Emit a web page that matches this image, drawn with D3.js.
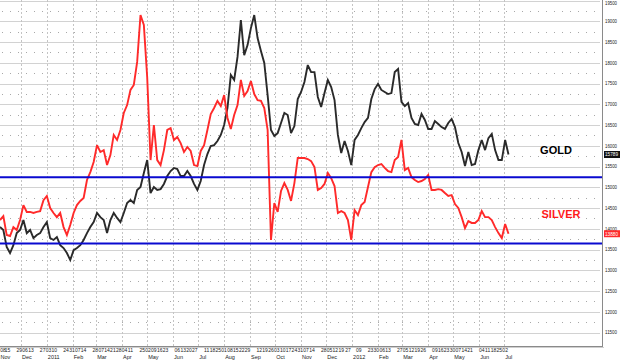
<!DOCTYPE html>
<html><head><meta charset="utf-8">
<script src="https://cdn.jsdelivr.net/npm/d3@7"></script>
<style>
body{margin:0;background:#fff;}
svg{display:block;font-family:Arial,"Liberation Sans",sans-serif;}
</style>
</head><body>
<svg id="c" width="620" height="360"></svg>
<script>
// ---- data ----
const startDate = "2010-11-06";
const stepDays = 4;
const gold = [14040,13970,13560,13415,13605,13895,13970,14210,13895,13970,
13775,13850,13895,14040,14160,13775,13730,13800,13605,13535,
13415,13245,13485,13535,13605,13730,13895,14040,14160,14380,
14280,14210,13895,14210,14380,14260,14160,14380,14620,14690,
14620,14935,15005,15345,15655,14860,15005,14935,14955,15080,
15270,15390,15465,15440,15270,15270,15390,15270,15080,14935,
15150,15535,15800,15995,16015,16115,16260,16500,16910,17705,
17585,18140,19030,18185,18425,18835,19150,18595,18285,17995,
17220,16380,16235,16305,16550,16790,16740,16305,16475,17125,
17295,17535,17945,17775,17775,17175,16935,17270,17585,17415,
17100,16260,15825,16115,15875,15535,16140,16260,16425,16570,
16670,17125,17365,17490,17345,17295,17245,17270,17775,17850,
17055,16955,17030,16670,16525,16500,16765,16620,16405,16405,
16595,16525,16450,16405,16550,16645,16450,16065,15850,15510,
15850,15535,15560,15895,16140,15895,16185,16285,15895,15655,
15655,16140,15789];
const silver = [14210,14305,13850,13825,14040,13970,14210,14570,14405,14405,
14380,14405,14425,14690,14790,14500,14380,14280,14380,14040,
13850,14090,14380,14570,14670,14740,15175,15365,15610,16015,
15850,15895,15535,15775,16260,16140,16380,16790,16980,17345,
17465,18020,19150,18910,17650,15655,16500,15655,15535,15895,
16380,16425,16140,16210,16065,15850,15970,15875,15535,15510,
15875,16015,16380,16765,16910,17080,16955,17220,16670,16405,
16740,16980,17585,17200,17320,17560,17245,17100,17080,16910,
16380,13730,14620,14405,14910,15100,14935,14670,15100,15705,
15705,15705,15680,15630,15485,14935,14980,15080,15345,15220,
15030,14380,14425,14380,14210,13730,14450,14330,14570,14645,
15005,15365,15485,15535,15560,15465,15390,15365,15655,15730,
16140,15415,15465,15245,15175,15125,15150,15200,15295,14935,
14935,14955,14935,14860,14790,14810,14595,14500,14280,14015,
14185,14140,14140,14210,14425,14280,14280,14210,14040,13895,
13775,14115,13880];
const yTicks = [11500,12000,12500,13000,13500,14000,14500,15000,15500,16000,16500,17000,17500,18000,18500,19000,19500];
const levels = [15240, 13645];
const weekTicks = ["2010-11-08","2010-11-15","2010-11-29","2010-12-06","2010-12-13","2010-12-27",
"2011-01-03","2011-01-10","2011-01-24","2011-01-31","2011-02-07","2011-02-14","2011-02-28",
"2011-03-07","2011-03-14","2011-03-21","2011-03-28","2011-04-04","2011-04-11","2011-04-25",
"2011-05-02","2011-05-09","2011-05-16","2011-05-23","2011-06-06","2011-06-13","2011-06-20","2011-06-27",
"2011-07-11","2011-07-18","2011-07-25","2011-08-01","2011-08-08","2011-08-15","2011-08-22","2011-08-29",
"2011-09-12","2011-09-19","2011-09-26","2011-10-03","2011-10-10","2011-10-17","2011-10-24","2011-10-31",
"2011-11-07","2011-11-14","2011-11-28","2011-12-05","2011-12-12","2011-12-19","2011-12-27",
"2012-01-09","2012-01-23","2012-01-30","2012-02-06","2012-02-13","2012-02-27",
"2012-03-05","2012-03-12","2012-03-19","2012-03-26","2012-04-09","2012-04-16","2012-04-23","2012-04-30",
"2012-05-07","2012-05-14","2012-05-21","2012-06-04","2012-06-11","2012-06-18","2012-06-25","2012-07-02"];
const monthLabels = ["Nov","Dec","2011","Feb","Mar","Apr","May","Jun","Jul","Aug","Sep","Oct","Nov","Dec","2012","Feb","Mar","Apr","May","Jun","Jul"];
const seriesNames = ["GOLD","SILVER"];
const seriesColors = ["#2a2a2a","#ff2a2a"];

// ---- layout ----
const W = 603, H = 346;
const svg = d3.select("#c");
const parse = d3.timeParse("%Y-%m-%d");
const t0 = parse(startDate);
const x = d3.scaleTime().domain([t0, parse("2012-10-27")]).range([0, W]);
const y = d3.scaleLinear().domain([11500, 19500]).range([332.5, 0.5]);
const dateAt = i => d3.timeDay.offset(t0, i * stepDays);

const g = svg.append("g");

// horizontal grid
g.selectAll("line.hg").data(yTicks).join("line")
  .attr("x1", 0).attr("x2", W - 3)
  .attr("y1", d => Math.round(y(d)) + 0.5).attr("y2", d => Math.round(y(d)) + 0.5)
  .attr("stroke", "#d2d2d2").attr("stroke-width", 1);
// dotted mid rows
g.selectAll("line.mg").data(yTicks.slice(0, -1).map(d => d + 250)).join("line")
  .attr("x1", 2).attr("x2", W - 3)
  .attr("y1", d => Math.round(y(d)) + 0.5).attr("y2", d => Math.round(y(d)) + 0.5)
  .attr("stroke", "#a8a8a8").attr("stroke-width", 1).attr("stroke-dasharray", "1,7");
// month verticals
const months = d3.timeMonth.range(parse("2010-12-01"), parse("2012-07-02"));
g.selectAll("line.vg").data(months).join("line")
  .attr("x1", d => Math.round(x(d)) + 0.5).attr("x2", d => Math.round(x(d)) + 0.5)
  .attr("y1", 0).attr("y2", H)
  .attr("stroke", "#c4c4c4").attr("stroke-width", 1).attr("stroke-dasharray", "2,2");

// series
const line = d3.line().x((d, i) => x(dateAt(i))).y(d => y(d));
[gold, silver].forEach((s, k) => {
  g.append("path").datum(s).attr("d", line)
    .attr("fill", "none").attr("stroke", seriesColors[k])
    .attr("stroke-width", 1.9).attr("stroke-linejoin", "miter").attr("stroke-miterlimit", 3);
});

// support levels
g.selectAll("line.lv").data(levels).join("line")
  .attr("x1", 0).attr("x2", W)
  .attr("y1", d => y(d)).attr("y2", d => y(d))
  .attr("stroke", "#0a0ad0").attr("stroke-width", 2);

// frame
g.append("line").attr("x1", W - 0.5).attr("x2", W - 0.5).attr("y1", 0).attr("y2", H + 1)
  .attr("stroke", "#8a8a8a");
g.append("line").attr("x1", 0).attr("x2", W).attr("y1", H + 0.5).attr("y2", H + 0.5)
  .attr("stroke", "#8a8a8a");
g.append("line").attr("x1", 0).attr("x2", W + 1).attr("y1", H + 1.5).attr("y2", H + 1.5)
  .attr("stroke", "#cfcfcf");

// right axis
const ax = svg.append("g").attr("transform", `translate(${W},0)`)
  .call(d3.axisRight(y).tickValues(yTicks).tickSize(0).tickPadding(2).tickFormat(d3.format("d")));
ax.select(".domain").remove();
ax.selectAll(".tick").attr("transform", d => `translate(0,${Math.max(y(d), 3.2)})`);
ax.selectAll("text").attr("font-size", "5.5px").attr("fill", "#222")
  .attr("textLength", 12).attr("lengthAdjust", "spacingAndGlyphs");

// last value boxes
[gold, silver].forEach((s, k) => {
  const v = s[s.length - 1];
  const yy = y(v);
  svg.append("rect").attr("x", W + 1).attr("y", yy - 3.5).attr("width", 16).attr("height", 7)
    .attr("fill", k === 0 ? "#111" : "#ff2a2a");
  svg.append("text").attr("x", W + 2).attr("y", yy).attr("dy", "0.35em")
    .attr("font-size", "5.5px").attr("fill", "#fff")
    .attr("textLength", 13).attr("lengthAdjust", "spacingAndGlyphs").text(v);
});

// series labels
svg.append("text").attr("x", 556).attr("y", y(15900)).attr("dy", "0.35em")
  .attr("text-anchor", "middle").attr("font-size", "11px").attr("font-weight", "bold")
  .attr("fill", "#000").text(seriesNames[0]);
svg.append("text").attr("x", 561).attr("y", y(14360)).attr("dy", "0.35em")
  .attr("text-anchor", "middle").attr("font-size", "11px").attr("font-weight", "bold")
  .attr("fill", "#ff1a1a").text(seriesNames[1]);

// bottom axis: week day numbers
svg.append("g").selectAll("text").data(weekTicks).join("text")
  .attr("x", d => Math.max(x(parse(d)), 3)).attr("y", 352).attr("text-anchor", "middle")
  .attr("font-size", "5px").attr("fill", "#222")
  .text(d => d3.timeFormat("%d")(parse(d)));
// month labels
const monthStarts = d3.timeMonth.range(parse("2010-11-01"), parse("2012-07-02"));
svg.append("g").selectAll("text").data(monthStarts).join("text")
  .attr("x", d => Math.max(x(d) + 1, 0.5)).attr("y", 358.5)
  .attr("font-size", "5.5px").attr("fill", "#222")
  .text((d, i) => monthLabels[i]);
</script>
</body></html>
